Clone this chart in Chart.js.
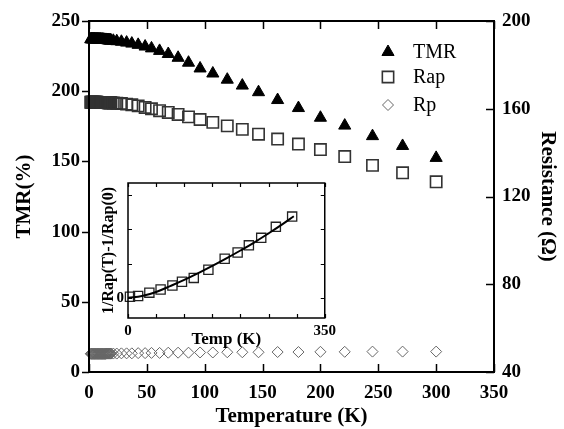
<!DOCTYPE html>
<html>
<head>
<meta charset="utf-8">
<script src="https://cdn.jsdelivr.net/npm/chart.js@4/dist/chart.umd.min.js"></script>
<style>
    html, body { margin: 0; padding: 0; background: #fff; }
    #wrap { position: relative; width: 564px; height: 429px; }
    #main { position: absolute; left: 0; top: 0; }
    #inset { position: absolute; left: 96px; top: 170px; }
</style>
</head>
<body>
<div id="wrap">
    <canvas id="main" width="564" height="429"></canvas>
    <canvas id="inset" width="244" height="180"></canvas>
</div>
<script>
    'use strict';

    // main plot data
    var temps = [1.5, 2, 2.5, 3, 3.5, 4, 4.5, 5, 5.5, 6, 6.5, 7, 7.5, 8, 8.5, 9, 9.5, 10,
        10.5, 11, 11.5, 12, 12.5, 13, 13.5, 14, 14.5, 15, 15.5, 16, 16.5, 17, 17.5, 18, 18.5, 19,
        21, 24, 28, 32.5, 37, 42.5, 48.5, 54, 61, 68.5, 77, 86, 96, 107, 119.5,
        132.5, 146.5, 163, 181, 200, 221, 245, 271, 300];
    var tmrValues = [237.0, 237.0, 237.0, 237.0, 237.0, 237.0, 237.0, 237.0, 236.9,
        236.9, 236.9, 236.9, 236.9, 236.9, 236.8, 236.8, 236.8, 236.8,
        236.7, 236.7, 236.7, 236.7, 236.6, 236.6, 236.5, 236.5, 236.5, 236.5,
        236.4, 236.4, 236.3, 236.3, 236.2, 236.2, 236.1, 236.1,
        235.9, 235.6, 235.2, 234.6, 233.9, 233.0, 231.8, 230.5, 228.7, 226.5,
        223.8, 220.3, 216.2, 212.6, 208.2, 204.0, 199.3, 193.7, 188.0, 181.1,
        175.5, 168.0, 161.0, 152.5];
    var rapValues = [163.0, 163.0, 163.0, 163.0, 163.0, 163.0, 163.0, 163.0, 163.0,
        163.0, 163.0, 163.0, 162.9, 162.9, 162.9, 162.9, 162.9, 162.9,
        162.9, 162.9, 162.9, 162.9, 162.8, 162.8, 162.8, 162.8, 162.8, 162.8,
        162.8, 162.8, 162.7, 162.7, 162.7, 162.7, 162.7, 162.7,
        162.6, 162.5, 162.4, 162.1, 161.8, 161.3, 160.6, 160.0, 159.1, 158.3,
        157.4, 156.3, 155.1, 153.8, 152.2, 150.6, 148.4, 146.2, 143.9, 141.4,
        138.2, 134.2, 130.8, 126.7];
    var rpValues = [48.3, 48.3, 48.3, 48.3, 48.3, 48.3, 48.3, 48.3, 48.3,
        48.3, 48.3, 48.3, 48.3, 48.3, 48.3, 48.3, 48.3, 48.3,
        48.3, 48.3, 48.3, 48.3, 48.3, 48.3, 48.3, 48.3, 48.3, 48.4,
        48.4, 48.4, 48.4, 48.4, 48.4, 48.4, 48.4, 48.4,
        48.4, 48.4, 48.5, 48.5, 48.5, 48.6, 48.6, 48.7, 48.7, 48.8,
        48.8, 48.8, 48.9, 48.9, 49.0, 49.0, 49.0, 49.1, 49.1, 49.2,
        49.2, 49.3, 49.3, 49.3];

    var xTickValues = [0, 50, 100, 150, 200, 250, 300, 350];
    var tmrTickValues = [0, 50, 100, 150, 200, 250];
    var resTickValues = [40, 80, 120, 160, 200];

    // inset data
    var insetTemps = [3.5, 18, 38, 58, 79, 96, 117, 143, 172, 195, 215, 237, 263, 292];
    var insetValues = [0.03, 0.05, 0.15, 0.24, 0.36, 0.47, 0.58, 0.82, 1.14, 1.32,
        1.53, 1.75, 2.07, 2.37];
    var fitTemps = [0, 25, 50, 75, 100, 125, 150, 175, 200, 225, 250, 275, 295];
    var fitValues = [0.0, 0.05, 0.17, 0.34, 0.52, 0.72, 0.93, 1.15, 1.38, 1.62,
        1.88, 2.15, 2.38];
    var insetYTickValues = [0, 1, 2, 3];

    var SERIF = "'Liberation Serif', 'Times New Roman', serif";

    function pairs(xs, ys) {
        return xs.map(function (x, i) { return {x: x, y: ys[i]}; });
    }

    /**
     * Draws a marker shape at x, y
     */
    function drawMarker(ctx, style, x, y, r) {
        ctx.beginPath();
        if (style === 'triangle') {
            ctx.moveTo(x, y - r);
            ctx.lineTo(x + 0.866 * r, y + 0.5 * r);
            ctx.lineTo(x - 0.866 * r, y + 0.5 * r);
            ctx.closePath();
        } else if (style === 'rect') {
            var s = Math.SQRT1_2 * r;
            ctx.rect(x - s, y - s, 2 * s, 2 * s);
        } else {
            ctx.moveTo(x, y - r);
            ctx.lineTo(x + r, y);
            ctx.lineTo(x, y + r);
            ctx.lineTo(x - r, y);
            ctx.closePath();
        }
    }

    // frame, inward/outward tick marks and the legend of the main plot
    var mainDecor = {
        id: 'mainDecor',
        afterDraw: function (chart) {
            var ctx = chart.ctx;
            var a = chart.chartArea;
            var sx = chart.scales.x, sy = chart.scales.y, sr = chart.scales.y1;
            ctx.save();
            ctx.strokeStyle = '#000';
            ctx.lineWidth = 2;
            ctx.strokeRect(a.left, a.top, a.right - a.left, a.bottom - a.top);
            ctx.beginPath();
            xTickValues.forEach(function (v) {
                var px = Math.round(sx.getPixelForValue(v)) + 0.5;
                ctx.moveTo(px, a.bottom); ctx.lineTo(px, a.bottom - 8);
                ctx.moveTo(px, a.top); ctx.lineTo(px, a.top + 8);
            });
            tmrTickValues.forEach(function (v) {
                var py = Math.round(sy.getPixelForValue(v)) + 0.5;
                ctx.moveTo(a.left, py); ctx.lineTo(a.left - 7, py);
            });
            resTickValues.forEach(function (v) {
                var py = Math.round(sr.getPixelForValue(v)) + 0.5;
                ctx.moveTo(a.right, py); ctx.lineTo(a.right - 8, py);
            });
            ctx.lineWidth = 1.5;
            ctx.stroke();

            // legend
            var lx = 388, tx = 413;
            var rows = [[52, 0], [77, 1], [105, 2]];
            ctx.font = '20px ' + SERIF;
            ctx.textBaseline = 'middle';
            ctx.textAlign = 'left';
            rows.forEach(function (row) {
                var ds = chart.data.datasets[row[1]];
                ctx.fillStyle = ds.backgroundColor;
                ctx.strokeStyle = ds.borderColor;
                ctx.lineWidth = ds.borderWidth;
                drawMarker(ctx, ds.pointStyle, lx, row[0], ds.pointRadius);
                ctx.fill();
                ctx.stroke();
                ctx.fillStyle = '#000';
                ctx.fillText(ds.label, tx, row[0] + 1);
            });
            ctx.restore();
        }
    };

    var insetDecor = {
        id: 'insetDecor',
        afterDraw: function (chart) {
            var ctx = chart.ctx;
            var a = chart.chartArea;
            var sx = chart.scales.x, sy = chart.scales.y;
            ctx.save();
            ctx.strokeStyle = '#000';
            ctx.lineWidth = 1.5;
            ctx.strokeRect(a.left, a.top, a.right - a.left, a.bottom - a.top);
            ctx.beginPath();
            xTickValues.forEach(function (v) {
                var px = Math.round(sx.getPixelForValue(v)) + 0.5;
                ctx.moveTo(px, a.bottom); ctx.lineTo(px, a.bottom - 4);
                ctx.moveTo(px, a.top); ctx.lineTo(px, a.top + 4);
            });
            insetYTickValues.forEach(function (v) {
                var py = Math.round(sy.getPixelForValue(v)) + 0.5;
                ctx.moveTo(a.left, py); ctx.lineTo(a.left + 4, py);
                ctx.moveTo(a.right, py); ctx.lineTo(a.right - 4, py);
            });
            ctx.lineWidth = 1.2;
            ctx.stroke();
            ctx.restore();
        }
    };

    var tickFont = {family: SERIF, size: 19, weight: 'bold'};
    var titleFont = {family: SERIF, size: 21, weight: 'bold'};
    var insetTickFont = {family: SERIF, size: 15, weight: 'bold'};

    new Chart(document.getElementById('main').getContext('2d'), {
        type: 'scatter',
        data: {
            datasets: [{
                label: 'TMR',
                data: pairs(temps, tmrValues),
                yAxisID: 'y',
                pointStyle: 'triangle',
                pointRadius: 7,
                backgroundColor: '#000',
                borderColor: '#000',
                borderWidth: 1,
                clip: false
            }, {
                label: 'Rap',
                data: pairs(temps, rapValues),
                yAxisID: 'y1',
                pointStyle: 'rect',
                pointRadius: 8,
                backgroundColor: 'rgba(255,255,255,0)',
                borderColor: '#333',
                borderWidth: 1.6,
                clip: false
            }, {
                label: 'Rp',
                data: pairs(temps, rpValues),
                yAxisID: 'y1',
                pointStyle: 'rectRot',
                pointRadius: 5.5,
                backgroundColor: 'rgba(255,255,255,0)',
                borderColor: '#666',
                borderWidth: 1,
                clip: false
            }]
        },
        options: {
            responsive: false,
            animation: false,
            devicePixelRatio: 1,
            layout: {padding: {top: 21, left: 0, right: 0, bottom: 0}},
            plugins: {legend: {display: false}, tooltip: {enabled: false}},
            scales: {
                x: {
                    type: 'linear', min: 0, max: 350,
                    grid: {display: false, drawTicks: false},
                    border: {display: false},
                    ticks: {stepSize: 50, font: tickFont, color: '#000', padding: 10, maxRotation: 0},
                    title: {display: true, text: 'Temperature (K)', font: titleFont, color: '#000', padding: {top: 0, bottom: 0}},
                    afterFit: function (s) { s.height = 57; }
                },
                y: {
                    position: 'left', min: 0, max: 250,
                    grid: {display: false, drawTicks: false},
                    border: {display: false},
                    ticks: {stepSize: 50, font: tickFont, color: '#000', padding: 9},
                    title: {display: true, text: 'TMR(%)', font: titleFont, color: '#000', padding: {top: 12, bottom: 0}},
                    afterFit: function (s) { s.width = 89; }
                },
                y1: {
                    position: 'right', min: 40, max: 200,
                    grid: {display: false, drawTicks: false},
                    border: {display: false},
                    ticks: {stepSize: 40, font: tickFont, color: '#000', padding: 8},
                    title: {display: true, text: 'Resistance (Ω)', font: titleFont, color: '#000', padding: {top: 4, bottom: 0}},
                    afterFit: function (s) { s.width = 70; }
                }
            }
        },
        plugins: [mainDecor]
    });

    new Chart(document.getElementById('inset').getContext('2d'), {
        type: 'scatter',
        data: {
            datasets: [{
                label: 'fit',
                data: pairs(fitTemps, fitValues),
                showLine: true,
                pointRadius: 0,
                borderColor: '#000',
                borderWidth: 2,
                tension: 0.4
            }, {
                label: 'Rap',
                data: pairs(insetTemps, insetValues),
                pointStyle: 'rect',
                pointRadius: 6.5,
                backgroundColor: 'rgba(255,255,255,0)',
                borderColor: '#222',
                borderWidth: 1.3,
                clip: false
            }]
        },
        options: {
            responsive: false,
            animation: false,
            devicePixelRatio: 1,
            layout: {padding: {top: 6, left: 0, right: 10, bottom: 0}},
            plugins: {legend: {display: false}, tooltip: {enabled: false}},
            scales: {
                x: {
                    type: 'linear', min: 0, max: 350,
                    grid: {display: false, drawTicks: false},
                    border: {display: false},
                    ticks: {
                        stepSize: 50, font: insetTickFont, color: '#000', padding: 4, maxRotation: 0,
                        callback: function (v) { return (v === 0 || v === 350) ? v : ''; }
                    },
                    title: {display: true, text: 'Temp (K)', font: {family: SERIF, size: 17, weight: 'bold'}, color: '#000', padding: {top: 0, bottom: 0}},
                    afterFit: function (s) { s.height = 32; }
                },
                y: {
                    min: -0.59, max: 3.35,
                    grid: {display: false, drawTicks: false},
                    border: {display: false},
                    ticks: {
                        stepSize: 1, font: insetTickFont, color: '#000', padding: 4,
                        callback: function (v) { return v === 0 ? '0' : ''; }
                    },
                    title: {display: true, text: '1/Rap(T)-1/Rap(0)', font: {family: SERIF, size: 16, weight: 'bold'}, color: '#000', padding: {top: 3, bottom: 0}},
                    afterFit: function (s) { s.width = 32; }
                }
            }
        },
        plugins: [insetDecor]
    });
</script>
</body>
</html>
